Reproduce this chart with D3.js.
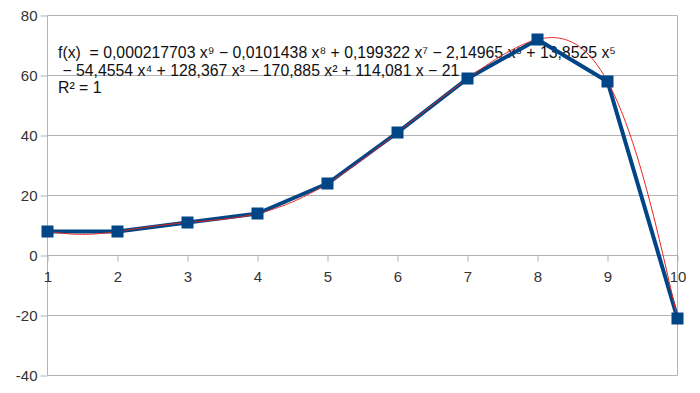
<!DOCTYPE html>
<html><head><meta charset="utf-8">
<script src="https://cdn.jsdelivr.net/npm/d3@7"></script>
<style>body{margin:0;background:#fff}svg{display:block}text{font-family:"Liberation Sans",Arial,sans-serif}</style>
</head><body>
<svg id="c" width="700" height="393"></svg>
<script>
const xValues = [1,2,3,4,5,6,7,8,9,10];
const yValues = [8,8,11,14,24,41,59,72,58,-21];
const yTicks = [-40,-20,0,20,40,60,80];
const xTicks = [1,2,3,4,5,6,7,8,9,10];
const equationLines = [
  "f(x)  = 0,000217703 x⁹ − 0,0101438 x⁸ + 0,199322 x⁷ − 2,14965 x⁶ + 13,8525 x⁵",
  " − 54,4554 x⁴ + 128,367 x³ − 170,885 x² + 114,081 x − 21",
  "R² = 1"
];

const svg = d3.select("#c");
const x = d3.scaleLinear().domain([1,10]).range([47.5,677.5]);
const y = d3.scaleLinear().domain([-40,80]).range([375.5,15.5]);
const grid = "#b3b3b3";

svg.append("g").selectAll("line").data(yTicks).join("line")
  .attr("x1",x(1)).attr("x2",x(10)).attr("y1",d=>y(d)).attr("y2",d=>y(d))
  .attr("stroke",grid).attr("stroke-width",1);
svg.append("line").attr("x1",x(1)).attr("x2",x(1)).attr("y1",y(80)).attr("y2",y(-40)).attr("stroke",grid);
svg.append("line").attr("x1",x(10)).attr("x2",x(10)).attr("y1",y(80)).attr("y2",y(-40)).attr("stroke",grid);

const ya = svg.append("g").attr("transform",`translate(${x(1)},0)`)
  .call(d3.axisLeft(y).tickValues(yTicks).tickSize(7).tickPadding(3).tickFormat(d=>String(d)));
ya.select(".domain").remove();
ya.selectAll("line").attr("stroke",grid);
ya.selectAll("text").attr("font-size",15).attr("fill","#333").attr("font-family","Liberation Sans, Arial, sans-serif");

const xa = svg.append("g").attr("transform",`translate(0,${y(0)})`)
  .call(d3.axisBottom(x).tickValues(xTicks).tickSize(6).tickPadding(10).tickFormat(d=>String(d)));
xa.select(".domain").remove();
xa.selectAll("line").attr("stroke",grid);
xa.selectAll("text").attr("font-size",15).attr("fill","#333").attr("font-family","Liberation Sans, Arial, sans-serif");

svg.append("g").selectAll("text").data(equationLines).join("text")
  .attr("x",58).attr("y",(d,i)=>58+i*17.6)
  .attr("font-size",15.8).attr("fill","#111").attr("xml:space","preserve")
  .style("white-space","pre")
  .text(d=>d);

const pts = xValues.map((v,i)=>[v,yValues[i]]);

// polynomial trendline (degree 9 through the data, R² = 1)
function poly(t){
  let s=0;
  for(let i=0;i<pts.length;i++){
    let l=1;
    for(let j=0;j<pts.length;j++){ if(j!==i) l*=(t-pts[j][0])/(pts[i][0]-pts[j][0]); }
    s+=l*pts[i][1];
  }
  return s;
}
const tr = d3.range(1,10.0001,0.02).map(t=>[t,poly(t)]);

svg.append("path").datum(pts)
  .attr("d",d3.line().x(d=>x(d[0])).y(d=>y(d[1])))
  .attr("fill","none").attr("stroke","#004586").attr("stroke-width",4).attr("stroke-linejoin","round");

svg.append("path").datum(tr)
  .attr("d",d3.line().x(d=>x(d[0])).y(d=>y(d[1])))
  .attr("fill","none").attr("stroke","#e8231f").attr("stroke-width",1);

svg.append("g").selectAll("rect").data(pts).join("rect")
  .attr("x",d=>x(d[0])-6).attr("y",d=>y(d[1])-6).attr("width",12).attr("height",12)
  .attr("fill","#004586");
</script>
</body></html>
